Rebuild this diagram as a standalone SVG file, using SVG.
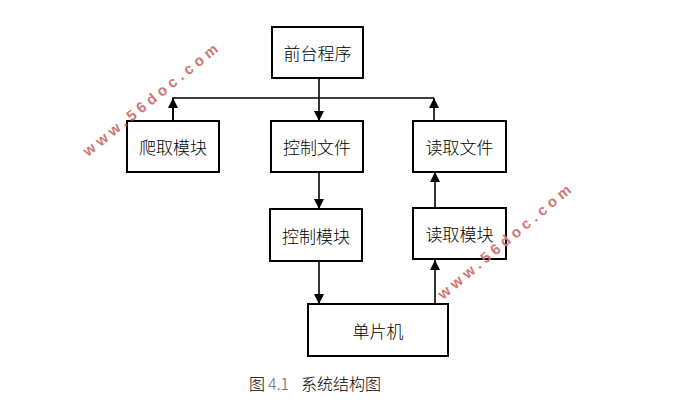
<svg xmlns="http://www.w3.org/2000/svg" width="697" height="400" viewBox="0 0 697 400">
<style>
.box{fill:#fff;stroke:#000;stroke-width:2}
.lbl{font-family:"Noto Sans CJK SC","Liberation Sans",sans-serif;font-weight:300;font-size:17px;fill:#000;text-anchor:middle;dominant-baseline:central}
.ln{fill:none;stroke:#000;stroke-width:1.6}
.wm{font-family:"Liberation Sans",sans-serif;font-weight:bold;font-size:15px;fill:#d27676;letter-spacing:4.3px}
.cap{font-family:"Noto Sans CJK SC","Liberation Sans",sans-serif;font-weight:300;font-size:16px;fill:#000}
</style>
<defs>
<marker id="ah" viewBox="0 0 10 10" refX="10" refY="5" markerWidth="10" markerHeight="10" markerUnits="userSpaceOnUse" orient="auto">
<path d="M0,0 L10,5 L0,10 z" fill="#000"/>
</marker>
</defs>
<rect width="697" height="400" fill="#fff"/>
<g id="connectors">
<path class="ln" d="M173,121 L173,98 L434,98"/>
<path class="ln" d="M173,121 L173,98" marker-end="url(#ah)"/>
<path class="ln" d="M434,121 L434,98" marker-end="url(#ah)"/>
<path class="ln" d="M319,78 L319,121" marker-end="url(#ah)"/>
<path class="ln" d="M319,172 L319,209" marker-end="url(#ah)"/>
<path class="ln" d="M319,261 L319,304" marker-end="url(#ah)"/>
<path class="ln" d="M435,304 L435,260" marker-end="url(#ah)"/>
<path class="ln" d="M435,208 L435,172" marker-end="url(#ah)"/>
</g>
<g id="n_qiantai"><rect class="box" x="272" y="27" width="91" height="51"/><text class="lbl" x="317.5" y="52.5">前台程序</text></g>
<g id="n_paqu"><rect class="box" x="127" y="121" width="92" height="51"/><text class="lbl" x="173" y="146.5">爬取模块</text></g>
<g id="n_kzwj"><rect class="box" x="271" y="121" width="92" height="51"/><text class="lbl" x="317" y="146.5">控制文件</text></g>
<g id="n_dqwj"><rect class="box" x="413" y="121" width="93" height="51"/><text class="lbl" x="459.5" y="146.5">读取文件</text></g>
<g id="n_kzmk"><rect class="box" x="270" y="209" width="92" height="52"/><text class="lbl" x="316" y="235">控制模块</text></g>
<g id="n_dqmk"><rect class="box" x="413" y="208" width="93" height="51"/><text class="lbl" x="459.5" y="233.5">读取模块</text></g>
<g id="n_dpj"><rect class="box" x="308" y="304" width="140" height="52"/><text class="lbl" x="378" y="330">单片机</text></g>
<g id="caption">
<text class="cap" x="249" y="390">图</text>
<text class="cap" x="268" y="390" fill="#666" style="fill:#666">4.1</text>
<text class="cap" x="301" y="390">系统结构图</text>
</g>
<text class="wm" transform="translate(88,157) rotate(-39)">www.56doc.com</text>
<text class="wm" transform="translate(443,300) rotate(-40)">www.56doc.com</text>
</svg>
